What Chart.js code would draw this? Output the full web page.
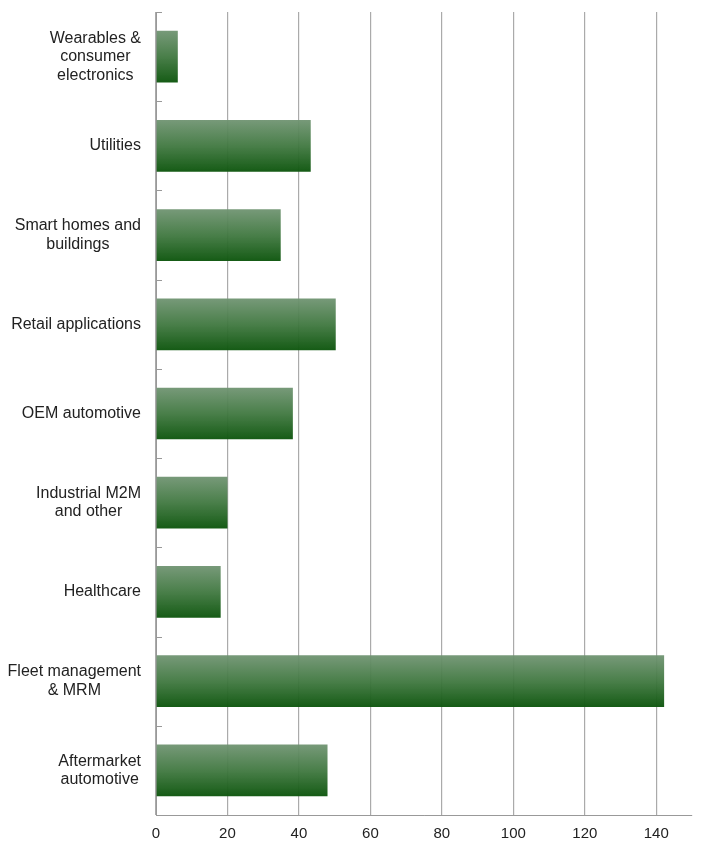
<!DOCTYPE html>
<html>
<head>
<meta charset="utf-8">
<script src="https://cdn.jsdelivr.net/npm/chart.js@4/dist/chart.umd.min.js"></script>
<style>
  html, body { margin: 0; padding: 0; background: #fff; }
  #wrap { width: 713px; height: 846px; }
</style>
</head>
<body>
<div id="wrap"><canvas id="myChart" width="713" height="846"></canvas></div>
<script>
// categories, top to bottom
var categories = [
  ["Wearables &", "consumer", "electronics"],
  "Utilities",
  ["Smart homes and", "buildings"],
  "Retail applications",
  "OEM automotive",
  ["Industrial M2M", "and other"],
  "Healthcare",
  ["Fleet management", "& MRM"],
  ["Aftermarket", "automotive"]
];
var values = [6.1, 43.3, 34.9, 50.3, 38.3, 20, 18.1, 142.2, 48];
var xTicks = [0, 20, 40, 60, 80, 100, 120, 140];

var BAR_PCT = 0.58;
var LABEL_FONT = '16px "Liberation Sans", Arial, sans-serif';
var ctx = document.getElementById('myChart').getContext('2d');

// green gradient, light at top of each bar, dark at the bottom
function barFill(context) {
  var chart = context.chart;
  var y = chart.scales && chart.scales.y;
  if (!y || context.dataIndex === undefined) return '#3a7a3a';
  var mid = y.getPixelForValue(context.dataIndex);
  var step = Math.abs(y.getPixelForValue(1) - y.getPixelForValue(0));
  var half = step * BAR_PCT / 2;
  if (!isFinite(mid) || !isFinite(half) || half <= 0) return '#3a7a3a';
  var g = chart.ctx.createLinearGradient(0, mid - half, 0, mid + half);
  g.addColorStop(0, 'rgba(112,148,114,0.95)');
  g.addColorStop(0.5, 'rgba(64,120,64,0.95)');
  g.addColorStop(1, 'rgba(14,86,14,0.97)');
  return g;
}

// marks between categories + category labels (lines centred, block right aligned)
var catAxis = {
  id: 'catAxis',
  afterDraw: function(chart) {
    var y = chart.scales.y, area = chart.chartArea, c = chart.ctx;
    var step = (y.getPixelForValue(1) - y.getPixelForValue(0));
    c.save();
    c.strokeStyle = '#999';
    c.lineWidth = 1;
    for (var i = 0; i < categories.length; i++) {
      var py = Math.round(y.getPixelForValue(i) - step / 2) + 0.5;
      c.beginPath();
      c.moveTo(area.left, py);
      c.lineTo(area.left + 6, py);
      c.stroke();
    }
    c.font = LABEL_FONT;
    c.fillStyle = '#222';
    c.textAlign = 'center';
    c.textBaseline = 'middle';
    var lh = 18.5, rightEdge = area.left - 15;
    categories.forEach(function(lab, i) {
      var lines = Array.isArray(lab) ? lab : [lab];
      var w = 0;
      lines.forEach(function(l) { w = Math.max(w, c.measureText(l).width); });
      var cx = rightEdge - w / 2;
      var cy = y.getPixelForValue(i);
      var y0 = cy - (lines.length - 1) * lh / 2;
      lines.forEach(function(l, k) { c.fillText(l, cx, y0 + k * lh); });
    });
    c.restore();
  }
};

var chart = new Chart(ctx, {
  type: 'bar',
  data: {
    labels: categories,
    datasets: [{
      data: values,
      backgroundColor: barFill,
      borderWidth: 0,
      barPercentage: BAR_PCT,
      categoryPercentage: 1
    }]
  },
  options: {
    indexAxis: 'y',
    responsive: false,
    animation: false,
    layout: { padding: { top: 12, right: 21, bottom: 0, left: 0 } },
    plugins: { legend: { display: false }, tooltip: { enabled: false } },
    scales: {
      x: {
        min: 0,
        max: 150,
        afterBuildTicks: function(scale) {
          scale.ticks = xTicks.map(function(v) { return { value: v }; });
        },
        afterFit: function(scale) {
          scale.height = 31;
          scale.paddingLeft = 0; scale.paddingRight = 0;
        },
        grid: { color: '#aaa', lineWidth: 1.2, drawTicks: false },
        border: { color: '#999', width: 1 },
        ticks: {
          color: '#222',
          padding: 10,
          font: { family: 'Liberation Sans, Arial, sans-serif', size: 15 }
        }
      },
      y: {
        afterFit: function(scale) {
          scale.width = 156;
          scale.paddingTop = 0; scale.paddingBottom = 0;
        },
        grid: { display: false, drawTicks: false },
        border: { color: '#999', width: 1 },
        ticks: { display: false }
      }
    }
  },
  plugins: [catAxis]
});
</script>
</body>
</html>
